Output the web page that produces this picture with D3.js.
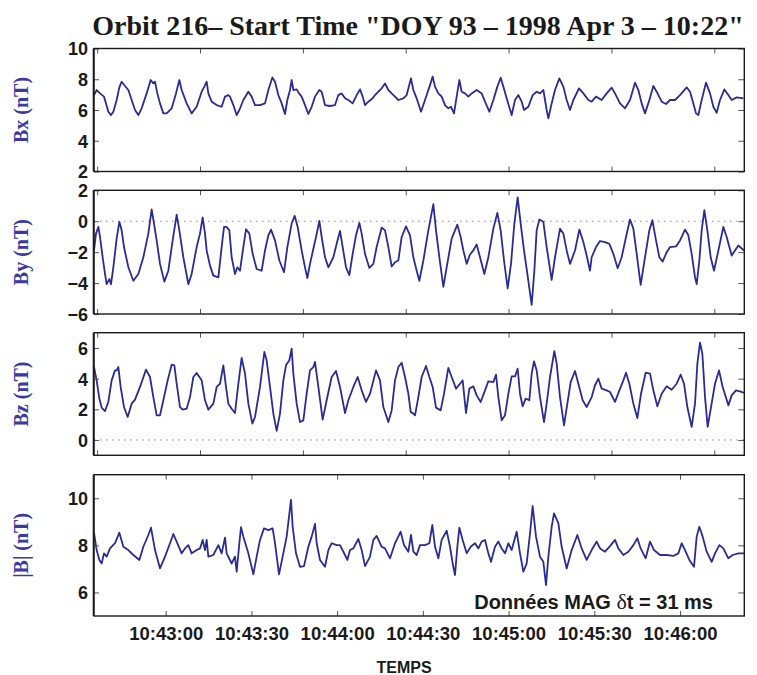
<!DOCTYPE html>
<html><head><meta charset="utf-8">
<script src="https://cdn.jsdelivr.net/npm/d3@7"></script>
<style>body{margin:0;background:#fff}</style>
</head><body><svg id="c" width="757" height="675"></svg>
<script>
// ---------- data (t = seconds after 10:42:34.9, value in nT) ----------
const startClock = "10:42:34.9";
const timeSpan = 227.6;
const bottomTickLabels = ["10:43:00","10:43:30","10:44:00","10:44:30","10:45:00","10:45:30","10:46:00"];
const topTickClock = ["10:42:36","10:43:12","10:43:48","10:44:24","10:45:00","10:45:36","10:46:12"];
const titleText = "Orbit 216\u2013 Start Time \"DOY 93 \u2013 1998 Apr 3 \u2013 10:22\"";
const panelLabels = ["Bx (nT)","By (nT)","Bz (nT)","|B| (nT)"];
const panelDomains = [[2,10],[-6,2],[-1,7],[5,11]];
const panelTicks = [[2,4,6,8,10],[-6,-4,-2,0,2],[0,2,4,6],[6,8,10]];
const panelZeroLine = [false,true,true,false];

const bxT = [0.0,0.93,2.1,3.5,4.2,5.02,5.95,6.77,7.93,8.87,9.68,10.85,12.02,13.18,14.35,15.52,16.68,18.43,19.83,20.77,21.35,22.17,23.1,24.27,25.43,27.18,28.7,29.87,30.68,32.43,34.18,35.93,37.68,38.62,39.43,40.02,41.18,42.93,44.68,45.85,47.02,47.6,48.77,49.93,50.87,52.27,54.02,55.18,56.35,58.1,59.85,61.02,62.42,63.35,64.52,65.68,66.85,67.67,68.6,69.18,69.77,70.93,71.75,72.68,73.85,75.02,76.18,77.35,78.87,79.68,80.85,82.6,84.35,85.52,86.68,87.85,89.02,90.53,91.93,93.1,94.03,94.85,96.02,97.53,98.35,99.52,100.68,101.85,103.02,104.18,105.35,106.52,108.27,109.43,110.95,111.77,112.93,114.45,115.85,117.6,118.53,119.35,120.52,121.68,122.85,124.02,124.95,126.0,126.93,127.87,128.68,129.85,131.02,132.18,133.93,135.68,136.85,138.37,139.77,141.17,142.33,143.27,144.43,146.18,147.35,148.52,149.68,150.5,152.02,153.53,154.93,156.1,157.27,158.43,159.02,160.18,161.35,162.87,164.27,165.43,166.6,167.77,169.75,171.27,173.02,174.18,175.7,177.68,179.43,181.18,182.35,184.1,185.85,187.6,189.35,190.52,191.68,192.85,194.37,195.77,196.93,198.68,200.2,201.6,203.35,205.1,207.43,208.6,209.77,210.7,211.52,212.68,214.2,215.6,216.77,217.93,219.1,220.62,222.02,223.18,224.93,227.27];
const bxV = [6.97,7.30,7.08,6.87,6.43,5.89,5.67,5.89,6.65,7.47,7.84,7.56,7.30,6.65,6.00,5.67,6.11,7.08,7.95,7.73,7.84,7.08,6.43,5.78,5.78,6.11,7.08,7.95,7.30,6.43,5.78,6.21,7.19,7.52,7.84,7.08,6.54,6.32,6.21,6.87,6.97,6.87,6.32,5.67,6.00,6.65,7.19,6.87,6.32,6.32,6.43,7.30,8.12,7.84,6.97,6.43,5.74,6.65,7.30,7.95,7.30,7.34,7.08,6.87,6.32,5.74,6.21,6.87,7.30,7.19,6.32,6.26,6.32,6.97,7.08,6.76,6.65,6.43,6.97,7.34,6.87,6.32,6.54,6.76,6.97,7.19,7.41,7.73,7.30,7.08,6.87,6.65,6.76,6.97,8.06,7.30,6.76,5.89,6.65,7.62,8.17,7.52,7.08,6.87,6.32,6.11,6.21,5.78,6.87,7.95,7.19,7.08,6.87,7.08,7.30,7.08,6.54,5.89,6.65,7.52,8.10,7.52,6.76,5.67,6.65,6.97,6.54,6.00,6.21,6.97,7.19,7.08,7.30,6.00,5.46,6.43,7.30,8.06,7.52,6.65,6.00,6.65,7.41,7.08,6.65,6.54,6.87,6.65,7.08,7.45,7.08,6.43,6.11,6.65,7.78,7.30,6.43,5.78,6.65,7.56,7.19,6.54,6.39,6.65,6.65,6.97,7.47,7.19,6.43,5.78,5.67,6.65,7.78,7.08,6.21,5.82,6.65,7.34,6.97,6.65,6.82,6.76];

const byT = [0.0,0.7,1.52,2.1,3.03,3.85,4.43,5.37,5.95,6.77,7.93,8.87,9.68,10.5,12.02,13.77,15.52,17.27,19.02,20.18,21.0,21.93,23.1,24.62,26.02,27.53,28.93,29.87,31.27,33.02,34.18,35.93,37.1,38.03,38.85,39.43,40.6,41.77,43.52,44.68,45.5,46.43,47.37,48.18,49.35,50.17,51.1,52.27,53.2,54.37,55.53,56.93,58.68,59.85,61.02,61.95,63.35,64.87,66.5,67.67,69.18,70.23,71.28,72.68,73.85,74.67,75.6,76.77,77.7,78.87,79.68,80.85,82.02,83.77,84.93,86.1,87.03,88.2,89.37,90.53,91.7,92.87,93.68,94.85,96.37,97.77,98.93,100.68,101.85,103.02,104.18,105.35,106.52,107.68,109.2,110.6,111.77,112.93,113.87,115.27,117.02,118.77,119.7,120.87,122.27,123.43,125.18,127.17,128.33,129.27,130.43,131.6,132.77,133.93,135.1,136.62,138.02,139.77,141.17,142.33,143.5,144.78,145.95,147.12,148.28,149.33,150.5,151.67,153.18,154.12,154.93,155.87,157.27,158.43,160.18,161.35,163.1,164.27,165.43,166.6,168.35,169.87,171.27,172.43,173.6,174.18,175.7,177.1,178.85,180.37,181.77,183.28,184.68,186.2,187.6,188.77,189.93,191.33,192.85,194.37,195.42,196.7,197.87,199.03,200.43,201.6,203.7,205.1,206.85,208.02,209.18,210.35,210.93,211.87,212.68,213.62,214.67,215.83,217.0,218.52,220.27,221.43,223.18,224.35,225.52,227.5];
const byV = [-1.89,-0.80,-0.37,-1.02,-2.33,-3.41,-4.07,-3.74,-4.07,-2.98,-1.13,-0.04,-0.59,-1.67,-2.98,-3.85,-3.41,-2.33,-0.80,0.76,-0.15,-1.24,-2.76,-3.91,-3.20,-1.24,0.43,-0.59,-2.33,-4.07,-3.41,-1.67,-0.80,0.24,-0.80,-1.89,-2.87,-3.52,-3.63,-1.67,-0.37,-0.37,-0.59,-2.33,-3.41,-2.98,-3.20,-1.67,-0.52,-0.80,-2.11,-3.09,-3.20,-1.89,-0.91,-0.54,-1.24,-2.54,-3.30,-1.67,-0.15,0.35,-0.37,-1.89,-2.98,-3.67,-2.76,-1.78,-1.02,0.02,-1.02,-2.33,-2.98,-2.33,-1.46,-0.63,-1.67,-2.98,-3.48,-2.11,-0.91,-0.11,-0.80,-2.11,-3.02,-2.76,-1.67,-0.41,-0.59,-1.67,-2.93,-2.65,-2.54,-1.02,-0.33,-0.91,-2.33,-3.20,-3.85,-2.54,-0.59,1.11,-0.59,-2.33,-4.24,-2.98,-1.13,-0.22,-1.02,-1.89,-2.76,-2.15,-1.89,-1.50,-2.33,-3.41,-2.33,-0.48,0.54,-0.59,-2.54,-4.35,-2.76,-0.15,1.54,-0.15,-1.89,-3.41,-5.41,-3.20,-0.59,0.11,-0.04,-1.67,-3.80,-2.33,-0.48,-0.80,-1.89,-2.76,-1.89,-0.54,-1.35,-2.22,-3.20,-2.33,-1.67,-1.28,-1.35,-1.46,-2.11,-3.04,-2.33,-1.02,0.11,-0.48,-2.11,-4.11,-2.33,-0.59,0.07,-1.24,-2.33,-2.61,-2.00,-1.67,-1.63,-1.24,-0.54,-0.91,-2.11,-3.63,-4.07,-2.54,-0.59,0.72,-0.59,-2.33,-3.20,-1.89,-0.37,-1.02,-2.22,-1.89,-1.57,-1.89];

const bzT = [0.0,0.93,1.87,2.68,3.85,5.02,6.18,7.35,7.93,8.52,9.33,10.5,11.78,13.18,14.35,16.1,18.2,19.6,20.77,21.93,23.1,24.27,25.78,27.18,28.12,28.93,30.1,31.03,32.43,33.6,34.77,35.93,37.68,38.85,40.02,41.77,42.93,44.1,45.27,46.2,47.02,48.18,49.35,50.52,51.68,52.85,54.02,55.42,56.35,58.1,59.62,60.43,61.6,62.77,63.93,65.1,66.27,67.2,68.37,69.18,69.77,70.93,72.1,73.27,74.43,75.6,76.77,77.35,78.52,80.03,81.43,83.18,84.7,86.1,87.85,89.02,90.77,92.28,93.68,95.2,96.6,98.7,100.1,101.27,103.02,104.18,105.35,106.52,107.68,108.85,110.02,110.83,111.77,112.35,113.52,114.68,116.2,117.37,118.53,119.7,121.33,122.5,124.02,125.18,126.7,128.1,129.03,130.2,131.37,132.77,133.93,135.33,136.85,138.02,139.77,140.7,141.52,142.68,143.85,145.02,146.18,147.35,148.28,149.1,150.03,151.08,152.37,153.18,154.0,154.93,156.1,157.5,158.43,159.6,161.12,161.93,163.1,164.5,165.67,166.83,168.35,169.52,171.03,172.43,174.18,175.35,176.52,177.68,179.43,180.6,182.35,183.87,185.27,186.2,187.37,188.77,190.17,191.45,193.08,194.6,195.77,197.17,198.68,200.43,202.18,203.93,205.33,206.5,207.67,209.18,210.35,211.17,212.1,212.92,213.85,214.78,215.95,217.35,218.75,220.03,222.02,223.18,224.7,226.1,227.5];
const bzV = [4.76,3.89,2.70,2.11,1.89,2.48,3.89,4.54,4.54,4.76,3.46,2.15,1.50,2.37,2.63,3.46,4.59,4.11,2.80,1.61,1.61,2.59,3.89,4.91,4.87,3.67,2.15,1.98,2.04,2.80,4.11,4.37,3.89,2.59,1.98,2.37,3.46,3.67,4.87,3.46,2.37,2.04,1.76,3.67,5.35,4.33,2.37,1.07,1.50,3.46,5.74,5.20,3.46,1.72,0.59,1.72,3.89,4.87,5.20,5.96,4.33,2.37,1.17,1.28,3.02,4.54,4.76,5.09,3.46,1.33,2.59,4.11,4.50,3.46,1.76,2.59,3.46,4.11,3.24,2.48,3.02,4.54,3.89,2.15,1.17,1.93,3.89,4.76,5.04,4.11,3.02,1.83,1.72,1.61,2.80,4.11,4.83,4.11,3.46,2.11,1.93,3.02,4.70,4.11,3.35,3.67,3.89,1.76,3.35,3.50,2.91,2.48,3.24,3.83,3.78,4.26,2.80,1.28,1.61,3.02,4.15,4.15,4.65,3.02,2.20,2.70,2.59,4.33,5.13,4.54,2.80,1.17,2.37,4.11,5.80,4.98,2.80,0.96,2.37,3.78,4.50,3.67,2.59,2.15,2.80,3.57,4.00,3.35,3.24,3.13,2.48,3.24,3.89,4.39,3.67,2.37,1.43,3.02,4.39,4.33,3.24,2.20,3.02,3.50,3.28,3.67,4.26,3.67,2.15,0.85,2.37,4.98,6.35,5.63,2.80,0.85,2.15,3.67,4.54,3.46,2.26,2.91,3.24,3.17,3.07];

const bmT = [0.0,0.93,1.87,2.68,3.5,4.43,5.6,7.35,8.87,10.27,12.02,13.77,15.87,17.27,19.02,19.95,21.35,23.1,24.85,26.6,27.77,28.93,30.68,31.85,33.02,34.18,35.93,37.1,38.03,38.85,39.43,40.02,41.77,43.52,44.68,45.85,46.43,48.18,49.35,49.93,50.87,51.45,52.27,54.02,55.77,56.93,58.1,59.5,61.02,62.53,63.35,64.75,66.03,67.43,68.95,69.53,70.7,72.1,73.5,75.02,76.18,77.35,77.93,79.1,80.85,82.02,83.18,84.93,86.1,87.85,88.67,89.6,90.77,92.52,93.68,94.85,96.6,97.77,98.93,100.68,101.85,103.6,105.35,107.33,108.5,110.02,110.95,111.77,112.93,114.1,115.85,117.37,118.42,119.35,120.52,121.68,123.43,124.6,125.53,126.35,127.17,127.87,129.03,130.43,131.83,133.35,134.52,135.68,136.85,138.02,138.95,140.35,141.52,142.68,143.85,145.02,146.18,147.93,149.1,150.27,151.43,152.6,153.53,154.7,156.1,157.27,158.2,159.02,160.18,161.0,162.52,163.68,165.43,167.18,169.17,170.68,172.43,174.18,175.93,177.1,178.85,180.6,182.35,183.52,185.27,187.02,188.77,190.17,191.33,193.08,194.6,196.0,198.1,200.43,202.77,204.52,205.68,206.85,208.37,210.0,210.93,211.87,213.03,214.43,216.18,217.35,218.87,220.27,222.02,223.53,225.52,227.5];
const bmV = [8.54,7.80,7.38,7.23,7.66,7.52,7.87,8.09,8.54,7.94,7.80,7.59,7.38,7.94,8.44,8.75,7.80,7.02,7.52,8.09,8.48,8.16,7.66,7.87,8.01,7.66,7.80,7.87,8.23,7.80,8.23,7.52,7.59,8.01,7.66,8.33,7.66,7.23,7.52,6.88,8.09,8.77,8.37,7.66,6.77,7.52,8.23,8.72,8.65,8.72,8.09,6.77,7.52,8.37,9.93,8.79,7.66,7.09,7.12,7.94,8.37,8.91,8.09,7.38,7.09,7.80,8.09,8.01,8.01,7.59,7.38,7.80,7.87,8.27,7.80,7.12,7.52,8.23,8.40,7.94,7.87,7.45,8.09,8.58,8.01,7.73,8.44,7.73,7.59,8.01,8.01,8.09,8.87,7.94,7.45,8.23,8.62,7.94,7.23,6.74,7.94,8.75,8.23,7.66,7.94,8.09,7.87,8.16,8.23,7.66,7.30,7.94,8.16,7.87,7.66,8.09,7.80,8.58,7.66,6.88,7.23,8.51,9.67,8.37,7.52,7.30,6.31,7.52,8.79,9.36,8.94,7.94,7.02,7.80,8.44,7.87,7.38,7.80,8.16,7.87,7.73,7.97,8.23,7.87,7.59,7.73,8.01,8.30,7.87,7.45,8.16,7.80,7.59,7.59,7.55,7.66,8.09,7.80,7.38,7.09,8.37,8.79,8.37,7.73,7.30,7.66,8.01,7.87,7.45,7.59,7.66,7.66];

const seriesT = [bxT, byT, bzT, bmT];
const seriesV = [bxV, byV, bzV, bmV];
const annotationParts = ["Donn\u00e9es MAG ", "\u03b4", "t = 31 ms"];
const xTitle = "TEMPS";

// ---------- layout ----------
const L = 94, R = 744.3;
const panelsY = [[48.5,171.5],[190.3,314],[332.7,455.3],[474.7,616]];
const lineColor = "#2b2b96", labelColor = "#3a3aa2";
const sans = "'Liberation Sans', Arial, sans-serif";
const serif = "'Liberation Serif', 'Times New Roman', serif";

function clockToSec(s){const p=s.split(":").map(Number);return p[0]*3600+p[1]*60+p[2];}
const t0 = clockToSec(startClock);
const x = d3.scaleLinear().domain([0,timeSpan]).range([L,R]);
const bottomTicks = bottomTickLabels.map(s=>clockToSec(s)-t0);
const topTicks = topTickClock.map(s=>clockToSec(s)-t0);

const svg = d3.select("#c");
svg.append("text").attr("x",418).attr("y",35).attr("text-anchor","middle")
  .style("font-family",serif).style("font-weight","bold").style("font-size","28px").attr("fill","#1a1a1a")
  .text(titleText);

panelsY.forEach((py,i)=>{
  const y = d3.scaleLinear().domain(panelDomains[i]).range([py[1],py[0]]);
  const g = svg.append("g");
  const cid = "clip"+i;
  g.append("clipPath").attr("id",cid).append("rect").attr("x",L).attr("y",py[0]).attr("width",R-L).attr("height",py[1]-py[0]);
  if(panelZeroLine[i]){
    g.append("line").attr("x1",L).attr("x2",R).attr("y1",y(0)).attr("y2",y(0))
      .attr("stroke","#8a8a8a").attr("stroke-width",1).attr("stroke-dasharray","1.5,4.5");
  }
  const pts = seriesT[i].map((t,k)=>[t,seriesV[i][k]]);
  g.append("path").datum(pts).attr("clip-path","url(#"+cid+")")
    .attr("d",d3.line().x(d=>x(d[0])).y(d=>y(d[1])))
    .attr("fill","none").attr("stroke",lineColor).attr("stroke-width",1.8).attr("stroke-linejoin","round");
  const xt = (i===3)?bottomTicks:topTicks;
  const axB = d3.axisBottom(x).tickValues(xt).tickSizeInner(-5).tickSizeOuter(0).tickFormat((d,k)=> i===3?bottomTickLabels[k]:"");
  const axT = d3.axisTop(x).tickValues(xt).tickSizeInner(-5).tickSizeOuter(0).tickFormat("");
  const axL = d3.axisLeft(y).tickValues(panelTicks[i]).tickSizeInner(-5).tickSizeOuter(0).tickPadding(6).tickFormat(d=>d<0?"\u2212"+Math.abs(d):d);
  const axR = d3.axisRight(y).tickValues(panelTicks[i]).tickSizeInner(-6).tickSizeOuter(0).tickFormat("");
  const gb = g.append("g").attr("transform",`translate(0,${py[1]})`).call(axB);
  const gt = g.append("g").attr("transform",`translate(0,${py[0]})`).call(axT);
  const gl = g.append("g").attr("transform",`translate(${L},0)`).call(axL);
  const gr = g.append("g").attr("transform",`translate(${R},0)`).call(axR);
  [gb,gt,gl,gr].forEach(a=>{a.select(".domain").remove();a.selectAll(".tick line").attr("stroke","#555").attr("stroke-width",1);});
  gl.selectAll(".tick text").style("font-family",sans).style("font-weight","bold").style("font-size","18px").attr("fill","#1a1a1a").attr("dy","0.36em");
  gb.selectAll(".tick text").style("font-family",sans).style("font-weight","bold").style("font-size","18.5px").attr("fill","#1a1a1a").attr("dy","0").attr("y",24);
  g.append("rect").attr("x",L).attr("y",py[0]).attr("width",R-L).attr("height",py[1]-py[0])
    .attr("fill","none").attr("stroke","#1a1a1a").attr("stroke-width",1.4);
  g.append("line").attr("x1",L-0.5).attr("x2",L-0.5).attr("y1",py[0]).attr("y2",py[1]).attr("stroke","#1a1a1a").attr("stroke-width",1.6);
  svg.append("text").attr("transform",`translate(28,${(py[0]+py[1])/2}) rotate(-90)`).attr("text-anchor","middle")
    .style("font-family",serif).style("font-weight","bold").style("font-size","20px").attr("fill",labelColor)
    .text(panelLabels[i]);
});

const ann = svg.append("text").attr("x",713).attr("y",609).attr("text-anchor","end")
  .style("font-family",sans).style("font-weight","bold").style("font-size","20px").attr("fill","#1a1a1a");
ann.append("tspan").text(annotationParts[0]);
ann.append("tspan").style("font-family",serif).style("font-weight","normal").style("font-size","22px").text(annotationParts[1]);
ann.append("tspan").text(annotationParts[2]);
svg.append("text").attr("x",404).attr("y",673).attr("text-anchor","middle")
  .style("font-family",sans).style("font-weight","bold").style("font-size","16px").attr("fill","#1a1a1a")
  .text(xTitle);
</script></body></html>
